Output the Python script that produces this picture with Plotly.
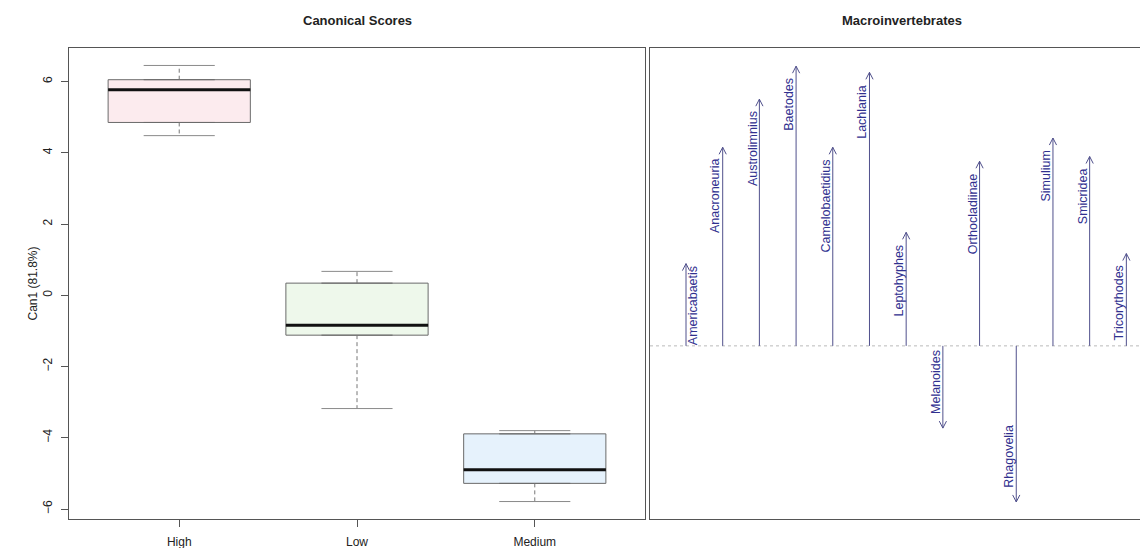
import plotly.graph_objects as go

# ---- Data: canonical scores box statistics ----
groups = ["High", "Low", "Medium"]
q1 = [4.85, -1.12, -5.28]
median = [5.77, -0.84, -4.90]
q3 = [6.05, 0.34, -3.89]
lower_whisker = [4.48, -3.18, -5.79]
upper_whisker = [6.45, 0.67, -3.80]
fills = ["#FCEBEE", "#EEF8EB", "#E6F2FC"]

# ---- Data: macroinvertebrate structure coefficients (Can1) ----
taxa = ["Americabaetis", "Anacroneuria", "Austrolimnius", "Baetodes", "Camelobaetidius",
        "Lachlania", "Leptohyphes", "Melanoides", "Orthocladiinae", "Rhagovelia",
        "Simulium", "Smicridea", "Tricorythodes"]
coef = [0.294, 0.710, 0.882, 1.000, 0.710, 0.978, 0.406, -0.294, 0.660, -0.558,
        0.743, 0.677, 0.330]

y_ticks = [-6, -4, -2, 0, 2, 4, 6]

# page body has an 8px margin, so the figure is sized to fill the rest of the window
W, H = 1140, 540
MT, MB = 40, 29
plot_h = H - MT - MB
FONT = "Liberation Sans, Arial, sans-serif"
TXT = "#222222"
ARROW_COL = "#50508C"
LABEL_COL = "#30308F"

fig = go.Figure()

xpos = list(range(1, len(groups) + 1))
for i, g in enumerate(groups):
    fig.add_trace(go.Box(
        x=[xpos[i]], q1=[q1[i]], median=[median[i]], q3=[q3[i]],
        lowerfence=[q1[i]], upperfence=[q3[i]],
        width=0.8, fillcolor=fills[i], line=dict(color="#6A6A6A", width=1),
        boxpoints=False, showlegend=False, hoverinfo="skip",
        xaxis="x", yaxis="y"))
    # dashed whiskers
    fig.add_trace(go.Scatter(
        x=[xpos[i], xpos[i], None, xpos[i], xpos[i]],
        y=[q3[i], upper_whisker[i], None, q1[i], lower_whisker[i]],
        mode="lines", line=dict(color="#777777", width=1, dash="4px,3px"),
        showlegend=False, hoverinfo="skip", xaxis="x", yaxis="y"))
    # caps
    fig.add_trace(go.Scatter(
        x=[xpos[i] - 0.2, xpos[i] + 0.2, None, xpos[i] - 0.2, xpos[i] + 0.2],
        y=[upper_whisker[i], upper_whisker[i], None, lower_whisker[i], lower_whisker[i]],
        mode="lines", line=dict(color="#8A8A8A", width=1),
        showlegend=False, hoverinfo="skip", xaxis="x", yaxis="y"))
    # median
    fig.add_trace(go.Scatter(
        x=[xpos[i] - 0.4, xpos[i] + 0.4], y=[median[i], median[i]],
        mode="lines", line=dict(color="#111111", width=3),
        showlegend=False, hoverinfo="skip", xaxis="x", yaxis="y"))

# Right panel
y2_range = [-0.619, 1.065]
x2_range = [0.019, 13.59]
x2_dom = [642 / W, 1.0]
panel2_w = W * (x2_dom[1] - x2_dom[0])
dy = 7 * (y2_range[1] - y2_range[0]) / plot_h
dx = 3.6 * (x2_range[1] - x2_range[0]) / panel2_w

ax, ay = [], []
for i, v in enumerate(coef):
    x = i + 1
    s = 1 if v >= 0 else -1
    ax += [x, x, None, x - dx, x, x + dx, None]
    ay += [0, v, None, v - s * dy, v, v - s * dy, None]
fig.add_trace(go.Scatter(x=ax, y=ay, mode="lines", line=dict(color=ARROW_COL, width=1),
                         showlegend=False, hoverinfo="skip", xaxis="x2", yaxis="y2"))

annotations = []
for i, (name, v) in enumerate(zip(taxa, coef)):
    right_side = (i == 0)
    if v >= 0:
        yanc, ysh = "top", (-1 if right_side else -10)
    else:
        yanc, ysh = "bottom", 12
    annotations.append(dict(
        x=i + 1, y=v, xref="x2", yref="y2", text=name, showarrow=False,
        textangle=-90, xanchor="center", yanchor=yanc,
        xshift=(7 if right_side else -7), yshift=ysh,
        font=dict(family=FONT, size=12.5, color=LABEL_COL)))

annotations += [
    dict(x=349 / W, y=1, xref="paper", yref="paper", yshift=28, text="<b>Canonical Scores</b>",
         showarrow=False, xanchor="center", yanchor="middle",
         font=dict(family=FONT, size=13, color=TXT)),
    dict(x=894 / W, y=1, xref="paper", yref="paper", yshift=28, text="<b>Macroinvertebrates</b>",
         showarrow=False, xanchor="center", yanchor="middle",
         font=dict(family=FONT, size=13, color=TXT)),
    dict(x=24 / W, y=0.5, xref="paper", yref="paper", text="Can1 (81.8%)",
         showarrow=False, textangle=-90, xanchor="center", yanchor="middle",
         font=dict(family=FONT, size=12, color=TXT)),
]

shapes = [dict(type="line", xref="x2 domain", yref="y2", x0=0, x1=1, y0=0, y1=0,
               line=dict(color="#BBBBBB", width=1, dash="3px,3px"), layer="below")]

fig.update_layout(
    width=W, height=H,
    margin=dict(l=0, r=0, t=MT, b=MB),
    paper_bgcolor="white", plot_bgcolor="white",
    showlegend=False,
    font=dict(family=FONT, size=12, color=TXT),
    xaxis=dict(domain=[61 / W, 637 / W], range=[0.38, 3.62], tickvals=xpos, ticktext=groups,
               showgrid=False, zeroline=False, showline=True, mirror=True,
               linecolor="#555555", linewidth=1, ticks="outside", ticklen=7,
               ticklabelstandoff=5,
               tickcolor="#555555", tickfont=dict(size=12, color=TXT)),
    yaxis=dict(domain=[0, 1], range=[-6.28, 6.94], tickvals=y_ticks,
               showgrid=False, zeroline=False, showline=True, mirror=True,
               linecolor="#555555", linewidth=1, ticks="outside", ticklen=7,
               ticklabelstandoff=4,
               tickcolor="#555555", tickangle=-90, tickfont=dict(size=12, color=TXT)),
    xaxis2=dict(domain=x2_dom, range=x2_range, anchor="y2", showgrid=False, zeroline=False,
                showticklabels=False, ticks="", showline=True, mirror=True,
                linecolor="#555555", linewidth=1),
    yaxis2=dict(domain=[0, 1], range=y2_range, anchor="x2", showgrid=False, zeroline=False,
                showticklabels=False, ticks="", showline=True, mirror=False,
                linecolor="#555555", linewidth=1),
    annotations=annotations,
    shapes=shapes,
)

fig.write_html("out.html")
